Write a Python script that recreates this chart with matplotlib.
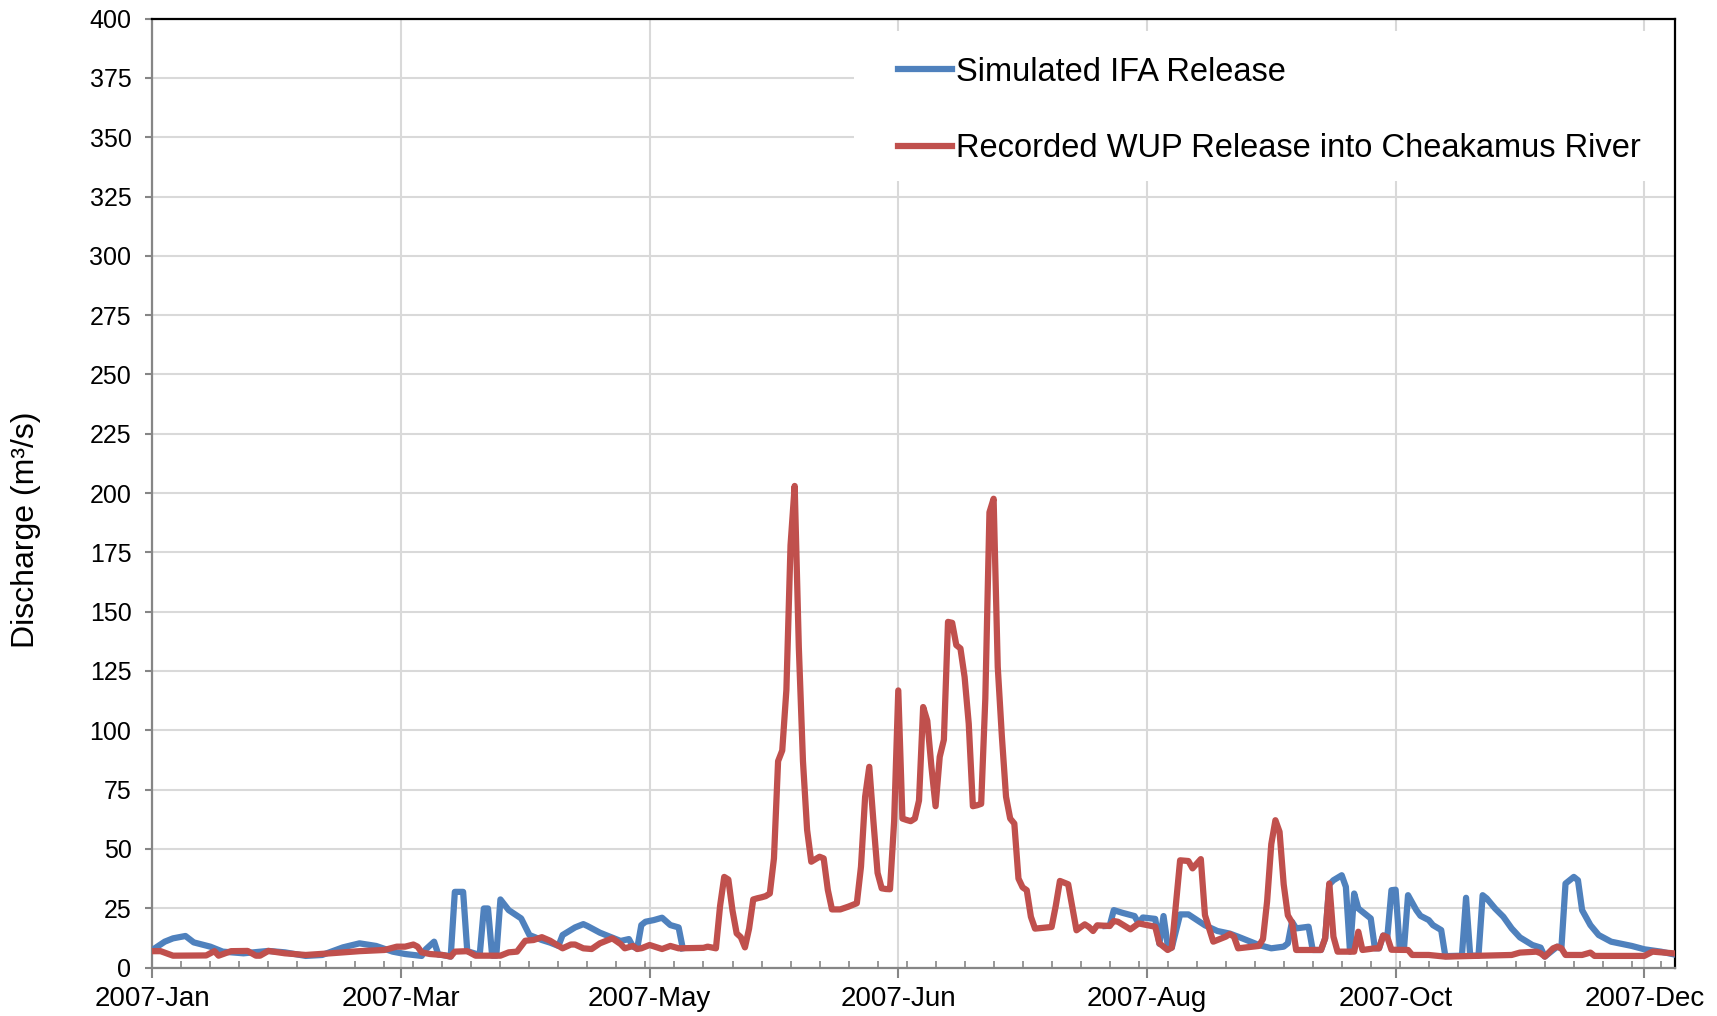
import numpy as np
import matplotlib
matplotlib.use('Agg')
import matplotlib.pyplot as plt
import matplotlib.dates as mdates
from matplotlib.ticker import MultipleLocator
from matplotlib.patches import Rectangle

plt.rcParams['font.family'] = ['Liberation Sans', 'DejaVu Sans']

# days counted from 2007-01-01, discharge in m3/s
ifa_day = [0, 3, 5, 8, 10, 14, 17, 22, 28, 32, 37, 41, 46, 50, 54, 58, 61, 65, 66, 68,
           69, 71, 72, 73, 75, 76, 79, 80, 81, 82, 83, 84, 86, 89, 91, 94, 96, 98, 99, 102,
           104, 105, 108, 110, 113, 115, 116, 117, 118, 119, 121, 123, 125, 127, 128,
           180,
           230, 231, 232, 234, 237, 238, 239, 242, 243, 244, 245, 246, 248, 250, 254, 257,
           260, 262, 265, 267, 270, 273, 274, 275, 276, 279, 280, 282, 283, 284, 285, 287,
           288, 289, 290, 291, 293, 294, 295, 296, 297, 298, 299, 300, 301, 302, 303, 305,
           306, 308, 309, 311, 312, 316, 317, 318, 320, 321, 322, 324, 326, 328, 330, 333,
           335, 336, 339, 340, 341, 343, 344, 345, 347, 349, 352, 357, 360, 364, 367]
ifa_q = [7.4, 10.9, 12.3, 13.3, 10.6, 8.8, 6.7, 6.0, 7.0, 6.4, 4.9, 5.3, 8.5, 10.2, 9.1, 6.7, 5.7, 4.9, 7.7, 10.9,
         5.5, 5.0, 4.6, 31.9, 31.9, 6.9, 5.3, 24.9, 24.9, 5.0, 5.0, 28.7, 24.2, 20.7, 13.7, 11.6, 10.5, 9.1, 13.7, 16.9,
         18.3, 17.5, 14.7, 13.3, 11.2, 12.0, 8.8, 8.0, 17.9, 19.3, 20.0, 21.0, 17.9, 16.9, 8.1,
         np.nan,  # hidden under the recorded release
         17.5, 17.6, 24.2, 23.1, 21.7, 18.6, 21.1, 20.5, 10.0, 21.7, 9.5, 8.4, 22.4, 22.4, 17.8, 15.4,
         14.3, 13.0, 10.9, 9.5, 8.1, 8.8, 10.2, 19.3, 16.5, 17.2, 7.4, 7.4, 12.3, 35.0, 36.8, 38.9,
         34.0, 6.7, 31.2, 24.9, 22.1, 20.7, 8.1, 8.1, 13.5, 12.8, 32.6, 32.8, 8.1, 7.5, 30.5, 24.2,
         21.8, 20.0, 17.9, 15.8, 4.8, 5.0, 29.4, 5.0, 5.0, 30.5, 29.1, 24.9, 21.4, 16.5, 12.7, 9.5,
         8.4, 4.6, 8.8, 8.1, 35.4, 38.2, 36.8, 24.2, 17.9, 13.7, 10.9, 9.1, 7.7, 6.7, 5.6]

wup_day = [0, 2, 5, 13, 15, 16, 19, 23, 25, 26, 28, 32, 37, 43, 50, 56, 59, 61, 63, 64,
           65, 67, 70, 72, 73, 76, 78, 84, 86, 88, 90, 92, 94, 96, 99, 101, 102, 104, 106, 108,
           111, 113, 114, 116, 117, 118, 120, 123, 125, 127, 133, 134, 136, 137, 138, 139, 140, 141, 142, 143,
           144, 145, 146, 147, 148, 149, 150, 151, 152, 153, 154, 155, 156, 157, 158, 159, 161, 162, 163, 164,
           166, 168, 170, 171, 172, 173, 174, 175, 176, 177, 178, 179, 180, 181, 182, 183, 184, 185, 186, 187,
           188, 189, 190, 191, 192, 193, 194, 195, 196, 197, 198, 199, 200, 201, 202, 203, 204, 205, 206, 207,
           208, 209, 210, 211, 212, 213, 217, 218, 219, 220, 221, 222, 223, 224, 225, 226, 227, 228, 231, 232,
           233, 236, 238, 242, 243, 245, 246, 248, 250, 251, 253, 254, 256, 259, 260, 261, 262, 267, 268, 269,
           270, 271, 272, 273, 274, 275, 276, 282, 283, 284, 285, 286, 290, 291, 292, 295, 296, 297, 298, 299,
           303, 304, 308, 312, 328, 330, 334, 335, 336, 338, 339, 340, 341, 345, 347, 348, 360, 362, 367]
wup_q = [6.9, 6.9, 5.0, 5.1, 6.9, 5.0, 6.9, 7.0, 5.0, 5.0, 7.0, 6.0, 5.3, 6.0, 6.9, 7.4, 8.8, 8.8, 9.7, 8.8,
         6.4, 5.7, 5.3, 4.6, 6.7, 6.9, 5.0, 5.0, 6.4, 6.7, 11.3, 11.6, 12.8, 11.3, 8.1, 9.7, 9.7, 8.1, 7.8, 10.2,
         12.3, 9.9, 8.1, 9.1, 7.8, 8.1, 9.5, 7.8, 9.1, 8.1, 8.3, 8.8, 8.1, 26.0, 38.2, 37.1, 24.0, 14.4, 12.8, 8.5,
         16.4, 28.7, 29.2, 29.6, 30.1, 31.2, 46.0, 87.0, 91.5, 117.0, 178.0, 203.0, 135.0, 87.0, 58.0, 44.6, 46.7, 46.0, 32.7, 24.5,
         24.5, 25.7, 27.1, 42.5, 72.0, 84.6, 61.6, 39.9, 33.4, 33.1, 33.0, 61.7, 116.8, 62.8, 62.2, 61.7, 62.8, 70.4, 109.8, 104.0,
         84.6, 68.0, 88.8, 96.0, 145.7, 145.3, 135.9, 134.5, 122.5, 102.8, 68.0, 68.4, 69.0, 113.3, 191.9, 197.6, 126.7, 97.3, 72.0, 62.8,
         60.7, 37.5, 33.8, 32.6, 21.4, 16.4, 17.1, 26.0, 36.5, 35.8, 35.1, 25.5, 15.7, 17.0, 18.2, 17.1, 15.4, 17.8, 17.5, 19.6,
         19.3, 16.1, 18.6, 17.2, 10.2, 7.4, 8.4, 45.2, 44.9, 41.8, 45.7, 22.1, 10.9, 13.0, 14.1, 13.0, 8.1, 9.1, 12.0, 28.0,
         52.0, 62.1, 57.2, 35.0, 22.0, 19.0, 7.4, 7.4, 12.3, 35.4, 13.0, 6.7, 6.7, 15.1, 7.4, 8.1, 8.1, 13.5, 12.8, 7.5,
         7.4, 5.3, 5.3, 4.6, 5.3, 6.3, 6.7, 6.0, 4.6, 8.1, 8.8, 8.1, 5.3, 5.3, 6.3, 4.9, 4.9, 6.7, 6.0]

start = np.datetime64('2007-01-01')
ifa_dates = start + np.array(ifa_day, dtype='timedelta64[D]')
wup_dates = start + np.array(wup_day, dtype='timedelta64[D]')

fig = plt.figure(figsize=(17.17, 10.16), dpi=100)
ax = fig.add_axes([0.0887, 0.0477, 0.8868, 0.934])

ax.plot(ifa_dates, ifa_q, color='#4F81BD', lw=4.5, label='Simulated IFA Release', zorder=3)
ax.plot(wup_dates, wup_q, color='#C0504D', lw=4.5, label='Recorded WUP Release into Cheakamus River', zorder=4)

base = mdates.date2num(start)
ax.set_xlim(base, base + 367.4)
ax.set_ylim(0, 400)
ax.xaxis.set_major_locator(MultipleLocator(60, offset=base))
ax.xaxis.set_minor_locator(MultipleLocator(7, offset=base))
ax.xaxis.set_major_formatter(mdates.DateFormatter('%Y-%b'))
ax.yaxis.set_major_locator(MultipleLocator(25))

ax.grid(True, which='major', color='#D9D9D9', lw=1.5)
ax.set_axisbelow(True)

for s in ['left', 'bottom']:
    ax.spines[s].set_color('#868686')
    ax.spines[s].set_linewidth(1.6)
for s in ['top', 'right']:
    ax.spines[s].set_color('black')
    ax.spines[s].set_linewidth(1.6)

ax.tick_params(axis='x', which='major', direction='out', length=7, width=1.5,
               color='#868686', labelsize=20, pad=6)
ax.tick_params(axis='x', which='minor', direction='in', length=5, width=1.2, color='#868686')
ax.tick_params(axis='y', which='major', direction='out', length=5, width=1.5,
               color='#868686', labelsize=18, pad=10)

ax.set_ylabel('Discharge (m³/s)', fontsize=23)
ax.yaxis.set_label_coords(-0.073, 0.461)

# white legend area hiding the gridlines
ax.add_patch(Rectangle((0.461, 0.829), 0.539, 0.158, transform=ax.transAxes,
                       facecolor='white', edgecolor='none', zorder=1.5))

leg = ax.legend(loc='upper left', bbox_to_anchor=(0.4897, 0.960), fontsize=23.5,
                frameon=False, handlelength=1.67, handletextpad=0.1, labelspacing=1.4,
                borderpad=0, borderaxespad=0)
leg.set_zorder(5)
for h in leg.legend_handles:
    h.set_linewidth(4.5)

fig.savefig('out.png', dpi=100)
